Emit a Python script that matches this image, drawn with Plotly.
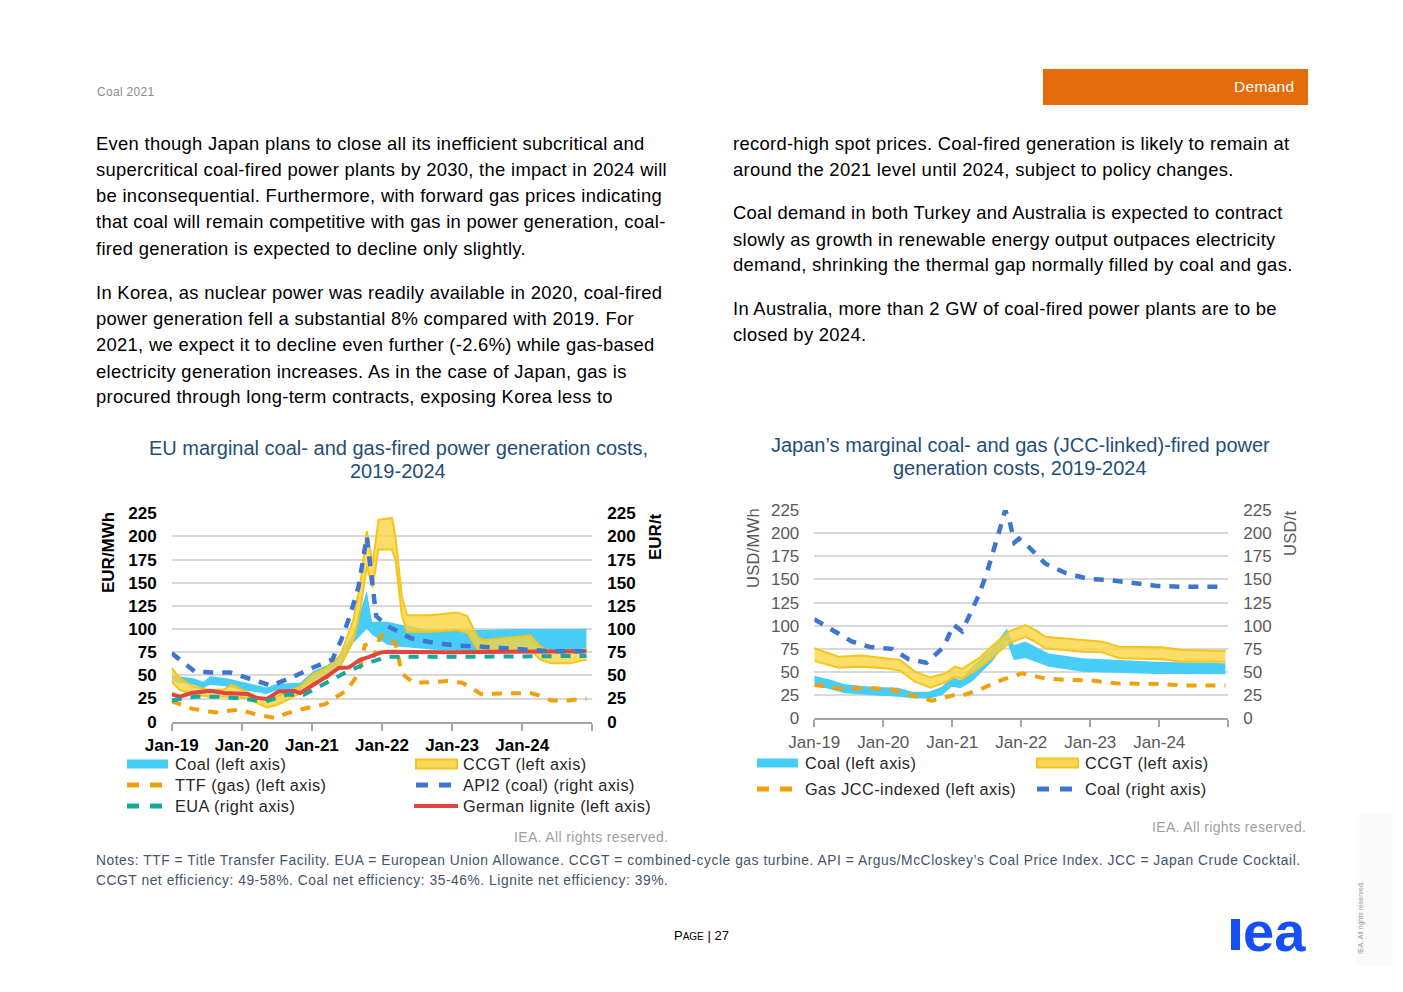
import plotly.graph_objects as go

W, H = 1403, 992
FONT = "Liberation Sans"

# ---------------- DATA (months since Jan-2019) ----------------
x_ticks = [0, 12, 24, 36, 48, 60, 72]
x_ticktext = ["Jan-19", "Jan-20", "Jan-21", "Jan-22", "Jan-23", "Jan-24", ""]
y_ticks = [0, 25, 50, 75, 100, 125, 150, 175, 200, 225]

# EU chart
eu_coal_m = [0, 3.7, 5.4, 6.6, 9.4, 12.3, 16.3, 18, 22, 24.3, 26.6, 28.9, 31.1, 33.4, 34.3, 36.9, 39.1, 44.3, 51.7, 58.6, 71]
eu_coal_hi = [50, 47, 43, 49, 47, 43, 37, 41, 42, 55, 61, 72, 96, 141, 108, 108, 105, 99, 99, 100, 100]
eu_coal_lo = [43, 40, 36, 40, 38, 34, 30, 34, 34, 45, 50, 60, 85, 100, 94, 83, 81, 78, 76, 76, 76]

eu_ccgt_m = [0, 1.4, 3.7, 6.6, 9, 10.3, 12.9, 16.3, 18, 19.7, 22, 24.3, 26.6, 28.9, 31.1, 32.3, 33.4, 34.4, 35.4,
             37.7, 38.3, 39.4, 40.3, 44.3, 48.9, 50.6, 52.3, 53.4, 61.4, 63.1, 64.9, 68.3, 71]
eu_ccgt_hi = [58, 47, 38, 34, 35, 40, 32, 23, 27, 32, 38, 52, 58, 72, 110, 150, 206, 170, 218,
              220, 200, 135, 115, 115, 118, 114, 92, 88, 93, 81, 76, 75, 79]
eu_ccgt_lo = [43, 34, 29, 27, 27, 27, 25, 15.5, 18, 23, 31, 43, 47, 60, 88, 121, 168, 145, 186,
              186, 175, 115, 97, 97, 99, 96, 79, 77.5, 77.5, 67, 63, 63, 67]

eu_ttf_m = [0, 3.5, 7.5, 11.5, 15, 17.7, 19.7, 22.6, 26.3, 30, 32, 33.1, 34.6, 35.7, 36.5, 38.3, 39.4, 41.4,
            45.4, 47.1, 49.7, 50.9, 52.9, 57, 61.4, 62.6, 65, 68, 70, 71]
eu_ttf = [22, 14, 10, 13, 7, 4, 9, 14, 19, 34, 52, 84, 70, 92, 94, 85, 52, 42,
          43, 44, 42, 38, 30, 30, 31, 29, 23, 23, 24.5, 25]

eu_api2_m = [0, 4, 7, 10, 14, 17, 21, 24, 27.5, 29, 30.5, 32, 33.4, 34.3, 35, 37, 41, 45, 49, 53, 57, 61, 65, 71]
eu_api2 = [74, 54, 53, 53, 45, 39, 49, 58, 67, 88, 114, 146, 200, 146, 114, 103, 90, 85, 82, 81, 79, 77, 76, 76]

eu_eua_m = [0, 4, 8, 12, 16, 19.7, 22.6, 26.6, 30, 33.4, 36.9, 48, 60, 71]
eu_eua = [23, 27, 27, 25, 21.6, 29, 29, 43, 54, 63, 70, 70, 71, 71]

eu_lig_m = [0, 1.4, 3.4, 6.6, 9, 13, 14.3, 16.3, 18.3, 21, 22, 25, 26.6, 28.6, 30.3, 32.3, 33.7, 35.7, 37, 48, 57, 60, 71]
eu_lig = [29.6, 27, 31, 33.5, 31, 30, 26, 24.5, 32.5, 33, 31, 42, 49, 58, 58.4, 67, 69.6, 74.6, 75.4, 75, 75, 76, 76]

# Japan chart
jp_coal_m = [0, 3, 5.3, 10, 14.6, 17, 19.9, 22.2, 23.9, 25.4, 27.4, 30.9, 33.5, 34.7, 36.7, 40.8, 46.6, 52.4, 59.4, 71.5]
jp_coal_hi = [46, 41.4, 36.7, 34, 33, 28.8, 28.8, 34, 45, 41.4, 55.8, 75.6, 97, 79, 83, 70, 64.8, 63, 61.2, 59.4]
jp_coal_lo = [36, 30.6, 27, 25, 23.4, 21.6, 21, 25, 34, 32.4, 39.6, 61.2, 83, 63, 65, 55.8, 50.4, 49.3, 47.9, 47.5]

jp_ccgt_m = [0, 4.2, 8.2, 12.3, 14.9, 17.5, 20.2, 22.8, 24.5, 25.7, 28.6, 31.5, 33.8, 36.7, 38.4, 40.2,
             46.6, 50.1, 53, 60.5, 64, 71.5]
jp_ccgt_hi = [75.6, 66.6, 67.7, 64.8, 63, 50.4, 44, 48.6, 55.8, 53.3, 64.8, 81, 93.6, 100.8, 95.4, 88,
              84.6, 82.8, 77.4, 76.7, 73.8, 72.7]
jp_ccgt_lo = [62, 54.7, 55.8, 54, 51.5, 39.6, 33, 38.9, 45, 42.5, 54, 68.4, 81, 88, 82.8, 75.6,
              72, 71.3, 64.8, 63.7, 61.2, 61.2]

jp_gas_m = [0, 5, 9.4, 13.5, 17, 20.4, 22.2, 24.8, 25.7, 28.6, 32.6, 35.5, 36.1, 37.3, 40.2, 44.3, 48.3,
            52.4, 56.4, 60.5, 64.6, 71.5]
jp_gas = [36, 31.7, 33, 31, 25, 19, 21.6, 26, 24.5, 30.6, 41.4, 48, 48.6, 47, 43, 41.4, 40.7,
          37.8, 37.4, 37, 35.3, 35.3]

jp_coalp_m = [0, 4, 6.5, 9.7, 13.5, 16.4, 19.5, 22.5, 24.2, 25.7, 27.1, 28.6, 30, 31.2, 32.3, 33.2, 34, 34.8,
              35.6, 37.3, 40.2, 43.7, 47.7, 51.8, 55.6, 59.6, 64, 71.5]
jp_coalp = [107, 92, 83, 77, 75, 64, 60, 77, 101, 94, 113, 133, 157, 180, 205, 225, 212, 190,
            194, 185, 167, 157, 150.5, 149, 146.5, 143, 142, 142]

# ---------------- STYLE ----------------
C_COAL = "#48CDF6"
C_CCGT = "rgba(250,212,60,0.78)"
C_CCGT_EDGE = "#F4C51C"
C_ORANGE = "#EFA00B"
C_BLUE = "#3F75D0"
C_TEAL = "#14A89E"
C_RED = "#E0453F"


def px(x):
    return x / W


def py(y):
    return 1 - y / H


fig = go.Figure()


def band(xs, lo, hi, color, xa, ya, edge=None):
    lw = 2 if edge else 0
    ec = edge if edge else color
    fig.add_trace(go.Scatter(x=xs, y=lo, mode="lines", line=dict(color=ec, width=lw),
                             xaxis=xa, yaxis=ya, showlegend=False, hoverinfo="skip"))
    fig.add_trace(go.Scatter(x=xs, y=hi, mode="lines", line=dict(color=ec, width=lw),
                             fill="tonexty", fillcolor=color,
                             xaxis=xa, yaxis=ya, showlegend=False, hoverinfo="skip"))


def line(xs, ys, color, xa, ya, dash=None, width=4):
    fig.add_trace(go.Scatter(x=xs, y=ys, mode="lines",
                             line=dict(color=color, width=width, dash=dash if dash else "solid"),
                             xaxis=xa, yaxis=ya, showlegend=False, hoverinfo="skip"))


# EU chart traces
band(eu_coal_m, eu_coal_lo, eu_coal_hi, C_COAL, "x", "y")
band(eu_ccgt_m, eu_ccgt_lo, eu_ccgt_hi, C_CCGT, "x", "y", edge=C_CCGT_EDGE)
line(eu_ttf_m, eu_ttf, C_ORANGE, "x", "y", dash="10px,9px")
line(eu_api2_m, eu_api2, C_BLUE, "x", "y2", dash="10px,9px", width=4.5)
line(eu_eua_m, eu_eua, C_TEAL, "x", "y2", dash="10px,9px")
line(eu_lig_m, eu_lig, C_RED, "x", "y", width=4)

# Japan chart traces
band(jp_coal_m, jp_coal_lo, jp_coal_hi, C_COAL, "x2", "y3")
band(jp_ccgt_m, jp_ccgt_lo, jp_ccgt_hi, C_CCGT, "x2", "y3", edge=C_CCGT_EDGE)
line(jp_gas_m, jp_gas, C_ORANGE, "x2", "y3", dash="10px,9px")
line(jp_coalp_m, jp_coalp, C_BLUE, "x2", "y4", dash="10px,9px", width=4.5)

# ---------------- AXES ----------------
eu_tick = dict(family=FONT, size=17, color="#000000", weight="bold")
jp_tick = dict(family=FONT, size=17, color="#595959")


def xax(dom, anchor, tf):
    return dict(domain=dom, anchor=anchor, range=[0, 72], tickvals=x_ticks, ticktext=x_ticktext,
                ticks="outside", ticklen=7, tickwidth=2, tickcolor="#A6A6A6",
                showline=True, linecolor="#A6A6A6", linewidth=2, showgrid=False, zeroline=False,
                tickfont=tf, fixedrange=True, automargin=False)


def yax(dom, anchor, tf, grid=True, side="left", overlay=None):
    d = dict(domain=dom, anchor=anchor, range=[0, 225], tickvals=y_ticks, side=side,
             showgrid=grid, gridcolor="#D9D9D9", gridwidth=2, zeroline=False, showline=False,
             ticks="", tickfont=tf, ticklabelstandoff=14, fixedrange=True, automargin=False)
    if overlay:
        d["overlaying"] = overlay
    return d


eu_xd = [px(171.7), px(592.3)]
eu_yd = [py(721.7), py(513.3)]
jp_xd = [px(814.3), px(1228.3)]
jp_yd = [py(718.3), py(510.0)]

fig.update_layout(
    template="none",
    width=W, height=H, autosize=False,
    margin=dict(l=0, r=0, t=0, b=0, pad=0, autoexpand=False),
    paper_bgcolor="white", plot_bgcolor="rgba(0,0,0,0)",
    font=dict(family=FONT),
    showlegend=False,
    xaxis=xax(eu_xd, "y", eu_tick),
    yaxis=yax(eu_yd, "x", eu_tick),
    yaxis2=yax(eu_yd, "x", eu_tick, grid=False, side="right", overlay="y"),
    xaxis2=xax(jp_xd, "y3", jp_tick),
    yaxis3=yax(jp_yd, "x2", jp_tick),
    yaxis4=yax(jp_yd, "x2", jp_tick, grid=False, side="right", overlay="y3"),
)

ann = []
shapes = []


def text(x, y, s, size, color="#000000", xanchor="left", weight="normal", angle=0, yanchor="middle", ls=0):
    if ls:
        s = "<span style='letter-spacing:%.2fpx'>%s</span>" % (ls, s)
    ann.append(dict(x=px(x), y=py(y), xref="paper", yref="paper", text=s, showarrow=False,
                    xanchor=xanchor, yanchor=yanchor, textangle=angle,
                    font=dict(family=FONT, size=size, color=color, weight=weight)))


# header
text(95, 92, "Coal 2021", 12, "#8C8C8C", ls=0.3)
shapes.append(dict(type="rect", xref="paper", yref="paper", x0=px(1043), x1=px(1308), y0=py(105), y1=py(69),
                   fillcolor="#E46C0A", line=dict(width=0)))
text(1296, 87, "Demand", 15.5, "#FFFFFF", xanchor="right", ls=0.3)

# body text
left_lines = [
    (143, "Even though Japan plans to close all its inefficient subcritical and"),
    (169, "supercritical coal-fired power plants by 2030, the impact in 2024 will"),
    (196, "be inconsequential. Furthermore, with forward gas prices indicating"),
    (222, "that coal will remain competitive with gas in power generation, coal-"),
    (248, "fired generation is expected to decline only slightly."),
    (292, "In Korea, as nuclear power was readily available in 2020, coal-fired"),
    (318, "power generation fell a substantial 8% compared with 2019. For"),
    (344, "2021, we expect it to decline even further (-2.6%) while gas-based"),
    (371, "electricity generation increases. As in the case of Japan, gas is"),
    (397, "procured through long-term contracts, exposing Korea less to"),
]
right_lines = [
    (143, "record-high spot prices. Coal-fired generation is likely to remain at"),
    (169, "around the 2021 level until 2024, subject to policy changes."),
    (212, "Coal demand in both Turkey and Australia is expected to contract"),
    (239, "slowly as growth in renewable energy output outpaces electricity"),
    (265, "demand, shrinking the thermal gap normally filled by coal and gas."),
    (308, "In Australia, more than 2 GW of coal-fired power plants are to be"),
    (335, "closed by 2024."),
]
for y, s in left_lines:
    text(94, y, s, 18.4, "#000000", ls=0.3)
for y, s in right_lines:
    text(731, y, s, 18.4, "#000000", ls=0.3)

# chart titles
TITLE_C = "#1F4E79"
text(398, 448, "EU marginal coal- and gas-fired power generation costs,", 20, TITLE_C, xanchor="center")
text(398, 471, "2019-2024", 20, TITLE_C, xanchor="center")
text(1020, 445, "Japan\u2019s marginal coal- and gas (JCC-linked)-fired power", 20, TITLE_C, xanchor="center")
text(1020, 468, "generation costs, 2019-2024", 20, TITLE_C, xanchor="center")

# axis titles
text(108, 553, "EUR/MWh", 17, "#000000", xanchor="center", weight="bold", angle=-90)
text(655, 537, "EUR/t", 17, "#000000", xanchor="center", weight="bold", angle=-90)
text(753, 548, "USD/MWh", 16.5, "#595959", xanchor="center", angle=-90, ls=0.3)
text(1290, 533, "USD/t", 16.5, "#595959", xanchor="center", angle=-90, ls=0.3)

# legends


def leg_rect(x0, x1, yc, fill, edge=None):
    shapes.append(dict(type="rect", xref="paper", yref="paper", x0=px(x0), x1=px(x1),
                       y0=py(yc + 4.5), y1=py(yc - 4.5), fillcolor=fill,
                       line=dict(width=2 if edge else 0, color=edge if edge else fill)))


def leg_line(x0, x1, yc, color, dashed=False):
    if dashed:
        for a, b in [(x0, x0 + 12), (x0 + 23, x0 + 35)]:
            shapes.append(dict(type="line", xref="paper", yref="paper", x0=px(a), x1=px(b),
                               y0=py(yc), y1=py(yc), line=dict(color=color, width=5)))
    else:
        shapes.append(dict(type="line", xref="paper", yref="paper", x0=px(x0), x1=px(x1),
                           y0=py(yc), y1=py(yc), line=dict(color=color, width=4)))


LEG_C = "#262626"
LS = 0.45
leg_rect(127, 168, 764, C_COAL)
text(173, 764, "Coal (left axis)", 16.3, LEG_C, ls=LS)
leg_rect(416, 457, 764, "#FAD85A", edge=C_CCGT_EDGE)
text(461, 764, "CCGT (left axis)", 16.3, LEG_C, ls=LS)
leg_line(127, 163, 785, C_ORANGE, dashed=True)
text(173, 785, "TTF (gas) (left axis)", 16.3, LEG_C, ls=LS)
leg_line(416, 452, 785, C_BLUE, dashed=True)
text(461, 785, "API2 (coal) (right axis)", 16.3, LEG_C, ls=LS)
leg_line(127, 163, 806, C_TEAL, dashed=True)
text(173, 806, "EUA (right axis)", 16.3, LEG_C, ls=LS)
leg_line(414, 458, 806, C_RED)
text(461, 806, "German lignite (left axis)", 16.3, LEG_C, ls=LS)

leg_rect(757, 798, 763, C_COAL)
text(803, 763, "Coal (left axis)", 16.3, LEG_C, ls=LS)
leg_rect(1037, 1078, 763, "#FAD85A", edge=C_CCGT_EDGE)
text(1083, 763, "CCGT (left axis)", 16.3, LEG_C, ls=LS)
leg_line(757, 793, 789, C_ORANGE, dashed=True)
text(803, 789, "Gas JCC-indexed (left axis)", 16.3, LEG_C, ls=LS)
leg_line(1037, 1073, 789, C_BLUE, dashed=True)
text(1083, 789, "Coal (right axis)", 16.3, LEG_C, ls=LS)

# sources
text(670, 837, "IEA. All rights reserved.", 14, "#A0A0A0", xanchor="right", ls=0.35)
text(1308, 827, "IEA. All rights reserved.", 14, "#A0A0A0", xanchor="right", ls=0.35)

# notes
NOTE_C = "#44546A"
text(94, 860, "Notes: TTF = Title Transfer Facility. EUA = European Union Allowance. CCGT = combined-cycle gas turbine. "
              "API = Argus/McCloskey\u2019s Coal Price Index. JCC = Japan Crude Cocktail.", 13.8, NOTE_C, ls=0.55)
text(94, 880, "CCGT net efficiency: 49-58%. Coal net efficiency: 35-46%. Lignite net efficiency: 39%.", 13.8, NOTE_C,
     ls=0.55)

# footer
text(701, 935, "P<span style='font-size:10px'>AGE</span> | 27", 13, "#000000", xanchor="center")
shapes.append(dict(type="rect", xref="paper", yref="paper", x0=px(1356), x1=px(1392), y0=py(965), y1=py(815),
                   fillcolor="#FAFAFA", line=dict(width=0), layer="below"))
text(1361, 918, "IEA. All rights reserved.", 7, "#9A9A9A", xanchor="center", angle=-90)
LOGO_C = "#1650F5"
shapes.append(dict(type="rect", xref="paper", yref="paper", x0=px(1231), x1=px(1240), y0=py(950), y1=py(919),
                   fillcolor=LOGO_C, line=dict(width=0)))
text(1241, 931, "ea", 56, LOGO_C, weight="bold")

fig.update_layout(annotations=ann, shapes=shapes)
fig.write_html("out.html", config={"responsive": False, "displayModeBar": False},
               post_script="document.body.style.margin='0px';document.body.style.padding='0px';")
